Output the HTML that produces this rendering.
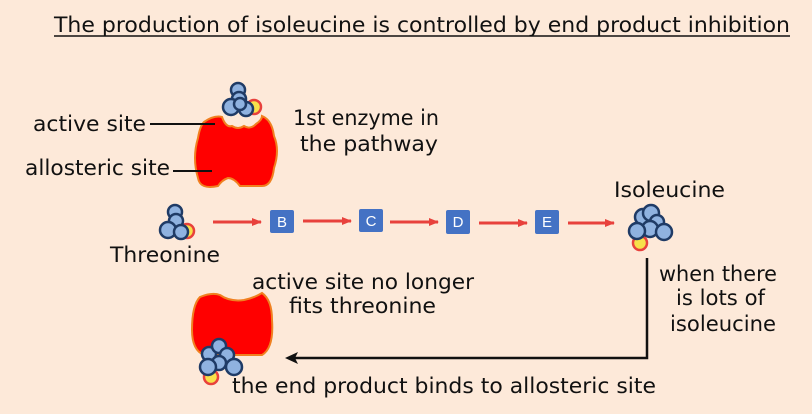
<!DOCTYPE html>
<html><head><meta charset="utf-8"><style>
html,body{margin:0;padding:0;background:#fde9d9;}
svg{display:block;}
text{font-family:"DejaVu Sans","Liberation Sans",sans-serif;font-size:21px;fill:#111;}
</style></head><body>
<svg width="812" height="414" viewBox="0 0 812 414" xmlns="http://www.w3.org/2000/svg">
<rect width="812" height="414" fill="#fde9d9"/>
<defs>
<marker id="ra" markerWidth="10" markerHeight="8" refX="9" refY="4" orient="auto" markerUnits="userSpaceOnUse"><path d="M0,0 L10,4 L0,8 z" fill="#e8413c"/></marker>
</defs>
<text x="54" y="32" textLength="736" lengthAdjust="spacingAndGlyphs">The production of isoleucine is controlled by end product inhibition</text>
<line x1="54" y1="36" x2="790" y2="36" stroke="#111" stroke-width="1.5"/>

<path d="M204,122 Q214,115 222,117 Q226,128 232,126 Q238,130 244,126 Q250,130 256,124 Q262,120 262,116 Q272,120 274,136 Q280,150 274,168 Q272,186 262,186 L240,186 Q234,178 228,178 Q222,180 218,186 Q200,190 198,178 Q192,158 198,138 Q200,126 204,122 z" fill="#ff0000" stroke="#f08020" stroke-width="2"/>
<line x1="150" y1="124" x2="215" y2="124" stroke="#111" stroke-width="2"/>
<line x1="173" y1="171" x2="212" y2="171" stroke="#111" stroke-width="2"/>
<g stroke="#1f3b66" stroke-width="2.5" fill="#8fb2e0">
<circle cx="254" cy="107" r="7" fill="#f7e04a" stroke="#e8413c"/>
<circle cx="238" cy="90" r="7"/><circle cx="239" cy="99" r="7"/>
<circle cx="231" cy="107" r="8"/><circle cx="246" cy="109" r="7"/><circle cx="240" cy="104" r="6"/>
</g>
<text x="293" y="125" textLength="146" lengthAdjust="spacingAndGlyphs">1st enzyme in</text>
<text x="300" y="151" textLength="138" lengthAdjust="spacingAndGlyphs">the pathway</text>
<text x="33" y="131" textLength="113" lengthAdjust="spacingAndGlyphs">active site</text>
<text x="25" y="175" textLength="145" lengthAdjust="spacingAndGlyphs">allosteric site</text>

<g stroke="#1f3b66" stroke-width="2.5" fill="#8fb2e0">
<circle cx="187" cy="231" r="7" fill="#f7e04a" stroke="#e8413c"/>
<circle cx="175" cy="212" r="7"/><circle cx="176" cy="221" r="7"/>
<circle cx="168" cy="230" r="8"/><circle cx="181" cy="232" r="7"/>
</g>
<text x="110" y="262" textLength="110" lengthAdjust="spacingAndGlyphs">Threonine</text>

<g stroke="#e8413c" stroke-width="3" marker-end="url(#ra)">
<line x1="213" y1="222" x2="261" y2="222"/>
<line x1="303" y1="221" x2="351" y2="221"/>
<line x1="390" y1="222" x2="438" y2="222"/>
<line x1="479" y1="223" x2="527" y2="223"/>
<line x1="568" y1="223" x2="614" y2="223"/>
</g>
<g fill="#4472c4">
<rect x="270" y="210" width="24" height="23" rx="2"/>
<rect x="359" y="209" width="24" height="23" rx="2"/>
<rect x="446" y="210" width="24" height="24" rx="2"/>
<rect x="535" y="210" width="24" height="24" rx="2"/>
</g>
<text x="282" y="227" text-anchor="middle" style="fill:#fff;font-size:15px;font-family:'Liberation Sans',sans-serif">B</text>
<text x="371" y="226" text-anchor="middle" style="fill:#fff;font-size:15px;font-family:'Liberation Sans',sans-serif">C</text>
<text x="458" y="227" text-anchor="middle" style="fill:#fff;font-size:15px;font-family:'Liberation Sans',sans-serif">D</text>
<text x="547" y="227" text-anchor="middle" style="fill:#fff;font-size:15px;font-family:'Liberation Sans',sans-serif">E</text>

<g stroke="#1f3b66" stroke-width="2.5" fill="#8fb2e0">
<circle cx="640" cy="243" r="7" fill="#f7e04a" stroke="#e8413c"/>
<circle cx="643" cy="217" r="8"/><circle cx="651" cy="213" r="8"/><circle cx="657" cy="222" r="7"/>
<circle cx="650" cy="229" r="8"/><circle cx="637" cy="231" r="8"/><circle cx="664" cy="232" r="8"/>
</g>
<text x="614" y="197" textLength="111" lengthAdjust="spacingAndGlyphs">Isoleucine</text>

<text x="659" y="281" textLength="118" lengthAdjust="spacingAndGlyphs">when there</text>
<text x="676" y="305" textLength="89" lengthAdjust="spacingAndGlyphs">is lots of</text>
<text x="670" y="331" textLength="106" lengthAdjust="spacingAndGlyphs">isoleucine</text>

<polyline points="647,258 647,358 294,358" fill="none" stroke="#111" stroke-width="2.5"/>
<path d="M285,358 L298,352 L295,358 L298,364 z" fill="#111"/>

<path d="M200,297 Q212,292 220,295 Q230,302 244,300 Q254,298 262,293 Q272,300 272,320 Q274,348 262,355 L204,355 Q192,350 192,330 Q192,305 200,297 z" fill="#ff0000" stroke="#f08020" stroke-width="2"/>
<g stroke="#1f3b66" stroke-width="2.5" fill="#8fb2e0">
<circle cx="211" cy="377" r="7" fill="#f7e04a" stroke="#e8413c"/>
<circle cx="209" cy="354" r="7"/><circle cx="219" cy="346" r="7"/><circle cx="227" cy="355" r="7"/>
<circle cx="219" cy="363" r="7"/><circle cx="208" cy="367" r="8"/><circle cx="234" cy="367" r="8"/>
</g>
<text x="252" y="289" textLength="222" lengthAdjust="spacingAndGlyphs">active site no longer</text>
<text x="289" y="313" textLength="147" lengthAdjust="spacingAndGlyphs">fits threonine</text>
<text x="232" y="393" textLength="424" lengthAdjust="spacingAndGlyphs">the end product binds to allosteric site</text>
</svg>
</body></html>
